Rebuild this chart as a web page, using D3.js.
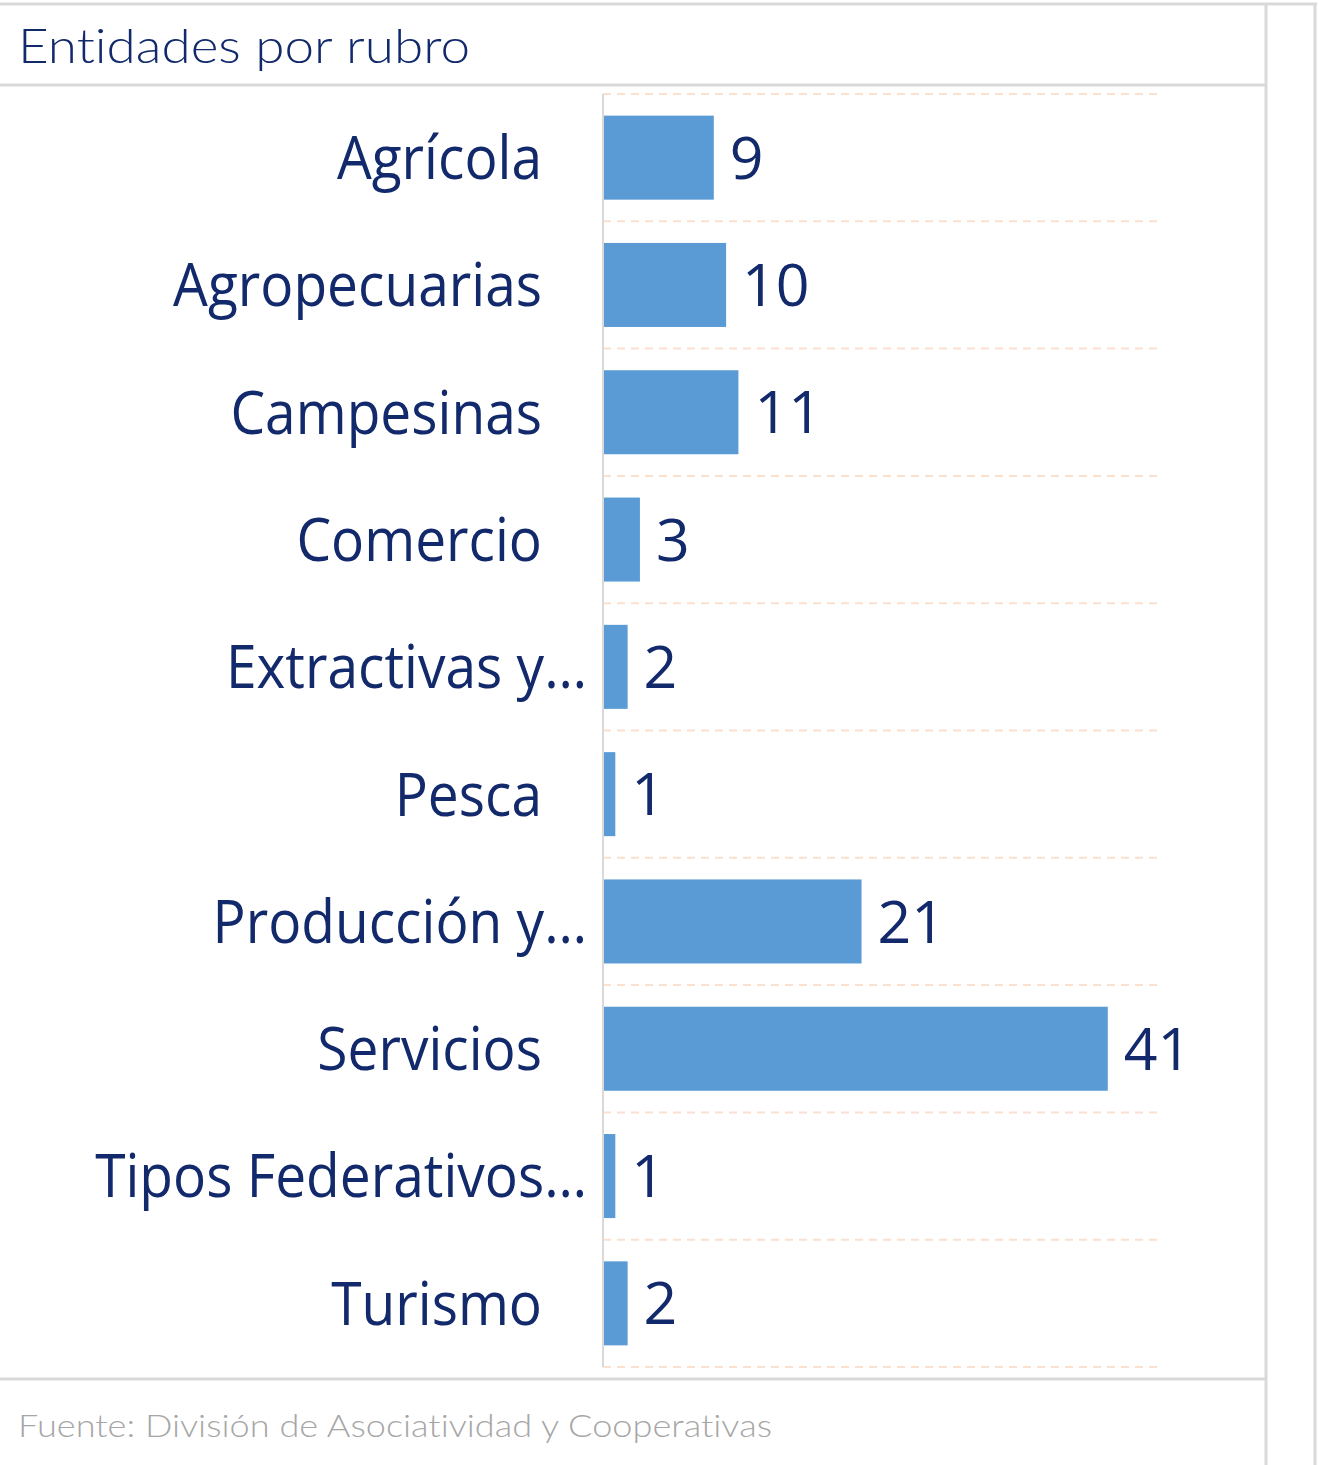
<!DOCTYPE html>
<html><head><meta charset="utf-8">
<script src="https://cdn.jsdelivr.net/npm/d3@7/dist/d3.min.js"></script>
<style>html,body{margin:0;padding:0;background:#fff;}svg{display:block;}text{font-variant-ligatures:none;font-feature-settings:"liga" 0;}</style>
</head><body>
<script>
const title = "Entidades por rubro";
const source = "Fuente: División de Asociatividad y Cooperativas";
const categories = ["Agrícola","Agropecuarias","Campesinas","Comercio","Extractivas y…","Pesca","Producción y…","Servicios","Tipos Federativos…","Turismo"];
const values = [9,10,11,3,2,1,21,41,1,2];
const xDomain = [0, 45];

const W = 1319, H = 1465;
const svg = d3.select("body").append("svg").attr("width", W).attr("height", H);
const border = "#D9D9D9", navy = "#12296B";

// frame lines
const lines = [
  [0, 4, 1317, 4], [0, 85, 1266, 85], [0, 1379, 1266, 1379],
  [1266, 4, 1266, H], [1315, 4, 1315, H]
];
svg.selectAll("line.frame").data(lines).join("line").attr("class","frame")
  .attr("x1", d=>d[0]).attr("y1", d=>d[1]).attr("x2", d=>d[2]).attr("y2", d=>d[3])
  .attr("stroke", border).attr("stroke-width", 3);

svg.append("text").text(title).attr("x", 18).attr("y", 63)
  .attr("font-family", "Lato, 'Open Sans', sans-serif").attr("font-size", 47).attr("font-weight", 300)
  .attr("fill", navy).attr("textLength", 452).attr("lengthAdjust", "spacingAndGlyphs");

svg.append("text").text(source).attr("x", 18).attr("y", 1437)
  .attr("font-family", "Lato, 'Open Sans', sans-serif").attr("font-size", 31).attr("font-weight", 300)
  .attr("fill", "#A6A6A6").attr("textLength", 754).attr("lengthAdjust", "spacingAndGlyphs");

const x0 = 603, x1 = 1157, yTop = 94, yBot = 1367;
const x = d3.scaleLinear().domain(xDomain).range([x0, x1]);
const y = d3.scaleBand().domain(categories).range([yTop, yBot]).paddingInner(0.34).paddingOuter(0.17);

// gridlines at band boundaries
const bounds = d3.range(categories.length + 1).map(i => yTop + i * (yBot - yTop) / categories.length);
svg.selectAll("line.grid").data(bounds).join("line").attr("class","grid")
  .attr("x1", x0).attr("x2", x1).attr("y1", d=>d).attr("y2", d=>d)
  .attr("stroke", "#FBDFCF").attr("stroke-width", 2).attr("stroke-dasharray", "8,6");

// bars
svg.selectAll("rect.bar").data(values).join("rect").attr("class","bar")
  .attr("x", x(0)).attr("y", (d,i)=>y(categories[i]))
  .attr("width", d => x(d) - x(0)).attr("height", y.bandwidth())
  .attr("fill", "#5B9BD5");

// axis line
svg.append("line").attr("x1", x0).attr("x2", x0).attr("y1", yTop).attr("y2", yBot)
  .attr("stroke", border).attr("stroke-width", 2);

const fs = 60;
// category labels
const lab = svg.selectAll("text.cat").data(categories).join("text").attr("class","cat")
  .text(d=>d).attr("font-family", "'Open Sans', sans-serif").attr("font-size", fs)
  .attr("fill", navy).attr("text-anchor", "end");
let ref = 1;
lab.each(function(d){ if (d === "Agropecuarias") ref = this.getComputedTextLength(); });
const sx = 369 / ref;
lab.attr("transform", d => `translate(${d.endsWith("…") ? 587 : 542},${y(d) + y.bandwidth()/2 + fs*0.357}) scale(${sx},1)`);

// value labels
svg.selectAll("text.val").data(values).join("text").attr("class","val")
  .text(d=>d).attr("font-family", "'Open Sans', sans-serif").attr("font-size", 59)
  .attr("fill", navy)
  .attr("x", d => x(d) + 16)
  .attr("y", (d,i) => y(categories[i]) + y.bandwidth()/2 + 59*0.357);
</script>
</body></html>
